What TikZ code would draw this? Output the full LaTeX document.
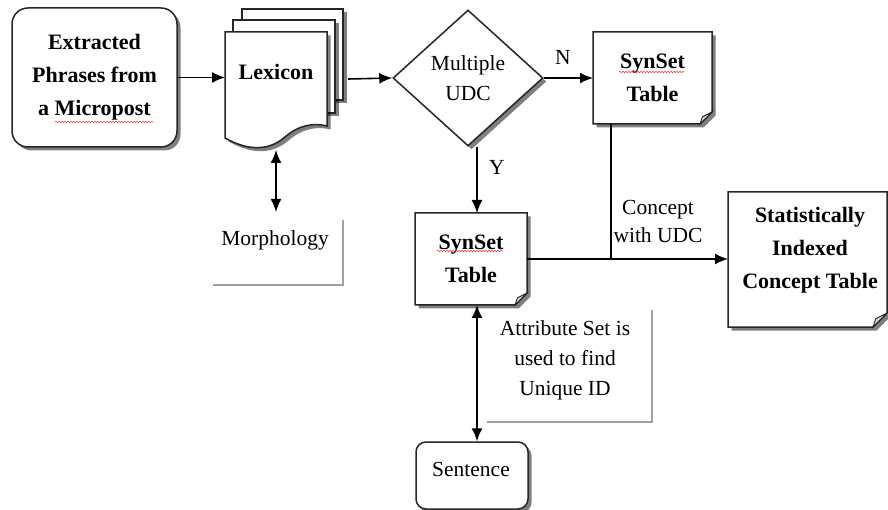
\documentclass[tikz,border=0pt]{standalone}
\usepackage{fontspec}
\setmainfont{Liberation Serif}
\usetikzlibrary{shapes.geometric,arrows.meta,shadows,decorations.pathmorphing,calc}
\pgfdeclarelayer{bg}
\pgfsetlayers{bg,main}

\tikzset{
  boxshadow/.style={drop shadow={shadow xshift=3.5pt,shadow yshift=-3.5pt,fill=black,opacity=.5}},
  boxline/.style={draw=black!85,line width=1.5pt,fill=white,boxshadow},
  btxt/.style={font=\fontsize{22}{33}\selectfont\bfseries,align=center,inner sep=0pt},
  rtxt/.style={font=\fontsize{21.5}{30}\selectfont,align=center,inner sep=0pt},
  holder/.style={draw=none,inner sep=0pt,outer sep=0pt},
  conn/.style={draw=black,line width=1.6pt},
  arr/.style={conn,-{Latex[length=13pt,width=11pt]}},
  dbl/.style={conn,{Latex[length=13pt,width=11pt]}-{Latex[length=13pt,width=11pt]}},
  greyedge/.style={draw=gray!75,line width=2.2pt},
  squig/.style={draw=red!80,line width=0.6pt,decorate,
    decoration={snake,segment length=3pt,amplitude=0.7pt}},
}

% note outline with a turned-down lower right corner
\newcommand\notepath[2]{%
  \path[boxline] (#1.north west) -- (#1.north east) -- ([yshift=#2]#1.south east)
    -- ([xshift=-#2]#1.south east) -- (#1.south west) -- cycle;
  \path[draw=black!85,line width=0.9pt,fill=gray!35] ([yshift=#2]#1.south east)
    -- ([xshift=-0.8*#2,yshift=0.6*#2]#1.south east) -- ([xshift=-#2]#1.south east) -- cycle;
}

\begin{document}
\begin{tikzpicture}[x=1pt,y=-1pt]
\useasboundingbox (0,0) rectangle (888,510);

% source phrases
\node[boxline,rounded corners=16pt,minimum width=165pt,minimum height=139pt,btxt]
  (ext) at (94.5,77.5) {Extracted\\Phrases from\\a Micropost};

% lexicon (stack of documents)
\node[holder,minimum width=102pt,minimum height=106pt] (lex) at (276,85) {};
\node[holder,minimum width=118pt,minimum height=140pt,outer sep=5pt] (stack) at (284,79) {};
\node[btxt] (lextext) at (276,72) {Lexicon};

% morphology
\node[holder,minimum width=130pt,minimum height=73pt] (morph) at (278,248.5) {};
\node[rtxt] (morphtext) at (275,240) {Morphology};

% decision
\node[diamond,boxline,minimum width=150pt,minimum height=136pt,inner sep=0pt,rtxt]
  (dia) at (468,78) {Multiple\\UDC};

% synset tables
\node[holder,btxt,minimum width=119pt,minimum height=92pt] (syn1) at (652.5,78) {SynSet\\Table};
\node[holder,btxt,minimum width=112pt,minimum height=92pt] (syn2) at (471,259) {SynSet\\Table};

% indexed concept table
\node[holder,minimum width=159pt,minimum height=135pt] (stat) at (807.5,259.5) {};
\node[btxt] (stattext) at (810,250) {Statistically\\Indexed\\Concept Table};

% sentence
\node[boxline,rounded corners=10pt,minimum width=112pt,minimum height=67pt] (sent) at (472,475.5) {};
\node[rtxt] (senttext) at (471,469) {Sentence};

% annotations
\node[rtxt,font=\fontsize{21.5}{28}\selectfont] (concept) at (658,221) {Concept\\with UDC};
\node[holder,minimum width=165pt,minimum height=112pt] (attrbox) at (569.5,366) {};
\node[rtxt] (attr) at (565,360) {Attribute Set is\\used to find\\Unique ID};
\node[rtxt] (nlab) at (563,57) {N};
\node[rtxt] (ylab) at (497,167) {Y};

\begin{pgfonlayer}{bg}
  \fill[white] (0,0) rectangle (888,510);
  % back sheets of the lexicon stack
  \path[boxline] (242,9) rectangle (343,100);
  \path[boxline] (233,20) rectangle (335,113);
  % front sheet with wavy lower edge
  \path[boxline] (lex.north west) -- (lex.north east) -- (327,126)
    .. controls (315,123) and (300,124) .. (285,137)
    .. controls (270,150) and (250,152) .. (225,138) -- cycle;
  \notepath{syn1}{12pt}
  \notepath{syn2}{12pt}
  \notepath{stat}{14pt}
\end{pgfonlayer}

% open frames around the annotation texts
\draw[greyedge] ([yshift=-8pt]morph.north east) -- (morph.south east) -- (morph.south west);
\draw[greyedge] (attrbox.north east) -- (attrbox.south east) -- (attrbox.south west);

% connectors
\draw[arr] (ext.east) -- (ext.east -| lex.west);
\draw[arr] (stack.east) -- (dia.west);
\draw[dbl] ([yshift=-12pt]lex.south) -- (lex.south |- morph.north);
\draw[arr] (dia.east) -- (syn1.west);
\draw[arr] ([xshift=6pt]syn2.north |- dia.south) -- ([xshift=6pt]syn2.north);
\draw[dbl] ([xshift=6pt]syn2.south) -- ([xshift=6pt]syn2.south |- sent.north);
\coordinate (join) at ([xshift=-41.5pt]syn1.south |- syn2.east);
\draw[conn] ([xshift=-41.5pt]syn1.south) -- (join);
\draw[arr] (syn2.east) -- (syn2.east -| stat.west);

% spelling marks under unknown words
\draw[squig] (55,122) -- (153,122);
\draw[squig] (619,72) -- (684,72);
\draw[squig] (437,251) -- (503,251);
\end{tikzpicture}
\end{document}
